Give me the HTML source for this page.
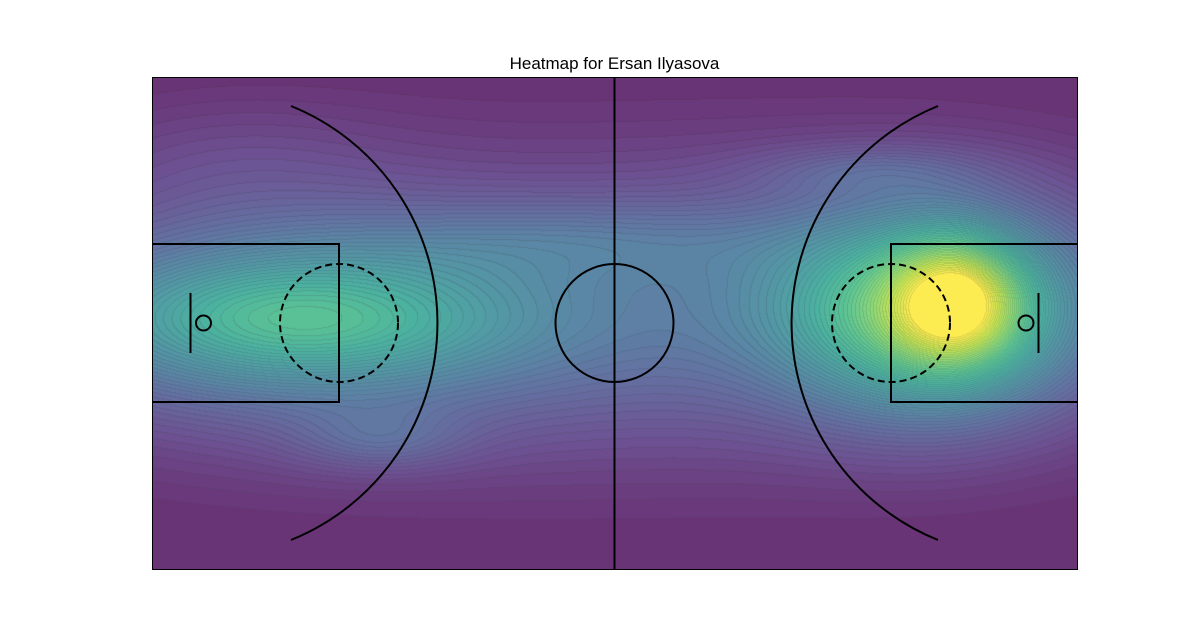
<!DOCTYPE html>
<html><head><meta charset="utf-8"><style>
body{margin:0;background:#fff;width:1200px;height:640px;overflow:hidden;position:relative;font-family:"Liberation Sans",sans-serif}
#title{position:absolute;left:0;width:1229px;top:54px;text-align:center;font-size:17px;color:#000}
#heat{position:absolute;left:152px;top:77px}
#court{position:absolute;left:0;top:0}
</style></head><body>
<div id="title">Heatmap for Ersan Ilyasova</div>
<canvas id="heat" width="925" height="492"></canvas>
<svg id="court" width="1200" height="640">
<rect x="152.5" y="77.5" width="925" height="492" fill="none" stroke="#000" stroke-width="1"/>
<g fill="none" stroke="#000" stroke-width="2">
<line x1="614.5" y1="77" x2="614.5" y2="569"/>
<circle cx="614.5" cy="323" r="59"/>
<polyline points="152,244 339,244 339,402 152,402"/>
<circle cx="339" cy="323" r="59" stroke-dasharray="7,4"/>
<line x1="190.5" y1="293" x2="190.5" y2="353"/>
<circle cx="203.5" cy="323" r="7.5"/>
<path d="M291,106 A234,234 0 0 1 291,540"/>
<polyline points="1077,244 891,244 891,402 1077,402"/>
<circle cx="891" cy="323" r="59" stroke-dasharray="7,4"/>
<line x1="1038.5" y1="293" x2="1038.5" y2="353"/>
<circle cx="1026" cy="323" r="7.5"/>
<path d="M938,106 A234,234 0 0 0 938,540"/>
</g></svg>
<script>
// density components (page px coords)
const blobX = [958, 930, 290, 280, 380, 580, 870, 614, 900, 230, 614];
const blobY = [300, 315, 318, 320, 440, 240, 170, 320, 270, 160, 300];
const blobSX = [45, 100, 150, 190, 60, 150, 80, 420, 200, 120, 600];
const blobSY = [45, 70, 45, 75, 22, 28, 18, 95, 80, 50, 170];
const blobW = [0.38, 0.55, 0.28, 0.2, 0.12, 0.1, 0.1, 0.18, 0.08, 0.06, 0.08];
const vir=[[68,1,84],[72,40,120],[62,73,137],[49,104,142],[38,130,142],[31,158,137],[53,183,121],[110,206,88],[181,222,43],[253,231,37]];
function cmap(t){t=Math.max(0,Math.min(1,t))*9;const i=Math.min(8,Math.floor(t)),f=t-i;return vir[i].map((c,k)=>c+(vir[i+1][k]-c)*f);}
const cv=document.getElementById('heat'),ctx=cv.getContext('2d');
const W=925,H=492,img=ctx.createImageData(W,H),N=60;
const lev=new Int16Array(W*H);
for(let y=0;y<H;y++)for(let x=0;x<W;x++){
 const px=x+152,py=y+77;let v=0;
 for(let i=0;i<blobX.length;i++){const dx=(px-blobX[i])/blobSX[i],dy=(py-blobY[i])/blobSY[i];v+=blobW[i]*Math.exp(-0.5*(dx*dx+dy*dy));}
 v=Math.max(0,v-0.04);
 lev[y*W+x]=Math.min(N-1,Math.floor(Math.min(1,v)*N));
}
for(let y=0;y<H;y++)for(let x=0;x<W;x++){
 const l=lev[y*W+x];let c=cmap(l/(N-1));
 const edge=(x+1<W&&lev[y*W+x+1]!==l)||(y+1<H&&lev[(y+1)*W+x]!==l);
 const d=edge?0.85:1;const o=(y*W+x)*4;
 for(let k=0;k<3;k++)img.data[o+k]=(0.8*c[k]*d+0.2*255);
 img.data[o+3]=255;
}
ctx.putImageData(img,0,0);
</script>
</body></html>
